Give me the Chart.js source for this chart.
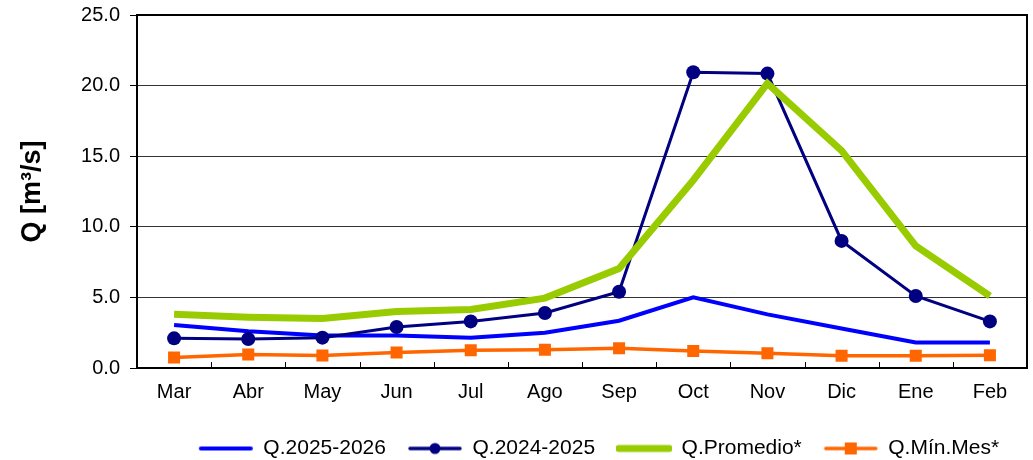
<!DOCTYPE html>
<html>
<head>
<meta charset="utf-8">
<script src="https://cdn.jsdelivr.net/npm/chart.js@4/dist/chart.umd.min.js"></script>
<style>
  html, body { margin: 0; padding: 0; background: #fff; }
  #wrap { width: 1033px; height: 460px; }
</style>
</head>
<body>
<div id="wrap"><canvas id="caudal" width="1033" height="460"></canvas></div>
<script>
// datos
var months = ["Mar", "Abr", "May", "Jun", "Jul", "Ago", "Sep", "Oct", "Nov", "Dic", "Ene", "Feb"];
var q2526 = [3.05, 2.6, 2.3, 2.3, 2.15, 2.5, 3.35, 5.0, 3.8, 2.8, 1.8, 1.8];
var q2425 = [2.1, 2.05, 2.15, 2.9, 3.3, 3.9, 5.4, 20.95, 20.85, 9.0, 5.1, 3.3];
var qProm = [3.8, 3.6, 3.5, 4.0, 4.15, 4.95, 7.05, 13.3, 20.15, 15.4, 8.65, 5.1];
var qMin = [0.75, 0.95, 0.88, 1.1, 1.25, 1.3, 1.4, 1.2, 1.05, 0.87, 0.87, 0.9];
var yTicks = [0, 5, 10, 15, 20, 25];

Chart.defaults.font.family = "'Liberation Sans', Arial, sans-serif";
Chart.defaults.color = "#000";

function legendIcon(color, width, marker) {
	var c = document.createElement("canvas");
	c.width = 56;
	c.height = 18;
	var g = c.getContext("2d");
	g.strokeStyle = color;
	g.lineWidth = width;
	g.lineCap = "round";
	g.beginPath();
	g.moveTo(3, 9);
	g.lineTo(53, 9);
	g.stroke();
	g.fillStyle = color;
	if (marker === "circle") {
		g.beginPath();
		g.arc(28, 9, 5.5, 0, Math.PI * 2);
		g.fill();
	} else if (marker === "rect") {
		g.fillRect(22, 3, 12, 12);
	}
	return c;
}

// marco, marcas del eje x y leyenda algo corrida a la derecha
var framePlugin = {
	id: "frame",
	afterLayout: function (chart) {
		if (chart.legend) {
			chart.legend.left += 17;
			chart.legend.right += 17;
		}
	},
	afterDatasetsDraw: function (chart) {
		var a = chart.chartArea, ctx = chart.ctx;
		ctx.save();
		ctx.strokeStyle = "#000";
		ctx.lineWidth = 1;
		var step = (a.right - a.left) / months.length;
		for (var i = 1; i < months.length; i++) {
			var px = Math.round(a.left + step * i) + 0.5;
			ctx.beginPath();
			ctx.moveTo(px, a.bottom - 6);
			ctx.lineTo(px, a.bottom);
			ctx.stroke();
		}
		ctx.lineWidth = 2;
		ctx.strokeRect(a.left, a.top, a.right - a.left, a.bottom - a.top);
		ctx.restore();
	},
};

new Chart(document.getElementById("caudal"), {
	type: "line",
	data: {
		labels: months,
		datasets: [
			{
				label: "Q.2025-2026",
				data: q2526,
				borderColor: "#0000ff",
				backgroundColor: "#0000ff",
				borderWidth: 4,
				pointRadius: 0,
				tension: 0,
				legendIcon: legendIcon("#0000ff", 4, null),
				order: 2,
			},
			{
				label: "Q.2024-2025",
				data: q2425,
				borderColor: "#000080",
				backgroundColor: "#000080",
				borderWidth: 3,
				pointRadius: 7,
				pointStyle: "circle",
				pointBorderWidth: 0,
				tension: 0,
				legendIcon: legendIcon("#000080", 3.5, "circle"),
				order: 1,
			},
			{
				label: "Q.Promedio*",
				data: qProm,
				borderColor: "#99cc00",
				backgroundColor: "#99cc00",
				borderWidth: 7,
				pointRadius: 0,
				tension: 0,
				legendIcon: legendIcon("#99cc00", 7, null),
				order: 0,
			},
			{
				label: "Q.Mín.Mes*",
				data: qMin,
				borderColor: "#ff6600",
				backgroundColor: "#ff6600",
				borderWidth: 3.5,
				pointRadius: 8.5,
				pointStyle: "rect",
				pointBorderWidth: 0,
				tension: 0,
				legendIcon: legendIcon("#ff6600", 3.5, "rect"),
				order: 3,
			},
		],
	},
	options: {
		responsive: false,
		animation: false,
		layout: { autoPadding: false, padding: { top: 15, right: 6, bottom: -9 } },
		plugins: {
			tooltip: { enabled: false },
			legend: {
				position: "bottom",
				fullSize: false,
				labels: {
					usePointStyle: true,
					pointStyleWidth: 54,
					padding: 22,
					font: { size: 21 },
					color: "#000",
					generateLabels: function (chart) {
						return chart.data.datasets.map(function (d, i) {
							return {
								text: d.label,
								pointStyle: d.legendIcon,
								fillStyle: d.borderColor,
								strokeStyle: d.borderColor,
								lineWidth: 0,
								datasetIndex: i,
								fontColor: "#000",
							};
						});
					},
				},
			},
		},
		scales: {
			x: {
				offset: true,
				grid: { display: false },
				border: { display: false },
				ticks: { font: { size: 20 }, color: "#000", padding: 4, maxRotation: 0 },
				afterFit: function (s) {
					s.height = 48;
					s.paddingLeft = 0;
					s.paddingRight = 0;
				},
			},
			y: {
				min: 0,
				max: 25,
				afterBuildTicks: function (s) {
					s.ticks = yTicks.map(function (v) { return { value: v }; });
				},
				grid: { color: "#333", lineWidth: 1, tickLength: 7, drawTicks: true, tickColor: "#000" },
				border: { display: false },
				ticks: {
					font: { size: 20 },
					color: "#000",
					padding: 10,
					callback: function (v) { return Number(v).toFixed(1); },
				},
				title: {
					display: true,
					text: "Q [m³/s]",
					font: { size: 27, weight: "bold" },
					color: "#000",
					padding: { top: 16, bottom: 0 },
				},
				afterFit: function (s) {
					s.width = 137;
					s.paddingTop = 0;
				},
			},
		},
	},
	plugins: [framePlugin],
});
</script>
</body>
</html>
